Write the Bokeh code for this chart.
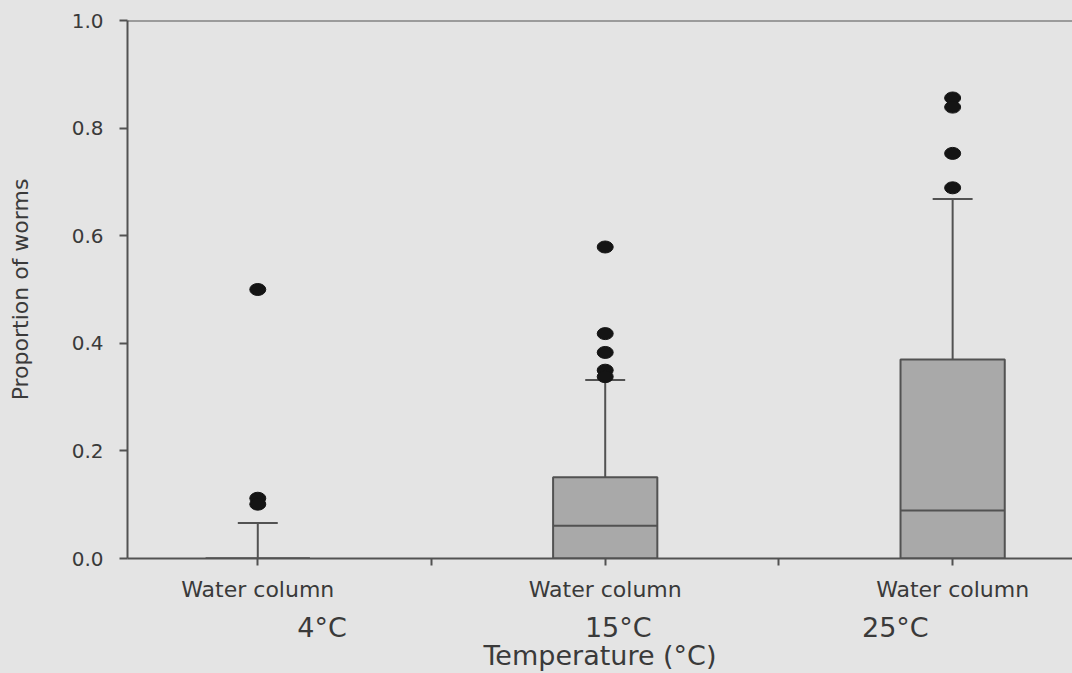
from bokeh.plotting import figure
from bokeh.models import FixedTicker, PrintfTickFormatter, Span, Range1d, ColumnDataSource, LinearAxis
from bokeh.embed import file_html
from bokeh.resources import INLINE

# ---------------- data ----------------
temperatures = ["4°C", "15°C", "25°C"]
habitat = ["Water column", "Water column", "Water column"]
q1 = [0.0, 0.0, 0.0]
median = [0.0, 0.061, 0.089]
q3 = [0.0, 0.151, 0.370]
whisker_high = [0.066, 0.332, 0.668]
outliers_4 = [0.500, 0.112, 0.101]
outliers_15 = [0.579, 0.418, 0.383, 0.350, 0.338]
outliers_25 = [0.856, 0.839, 0.753, 0.689]
y_ticks = [0.0, 0.2, 0.4, 0.6, 0.8, 1.0]
y_title = "Proportion of worms"
x_title = "Temperature (°C)"

# ---------------- styling ----------------
BG = "#e4e4e4"
LINE = "#525252"
TEXT = "#3a3a3a"
BOX = "#a9a9a9"
FONT = "DejaVu Sans"

slots = [2 * i + 1 for i in range(len(temperatures))]  # every other slot holds a box
half_box = 0.30
half_cap = 0.115

p = figure(width=1072, height=673,
           x_range=Range1d(0.25, 5.69), y_range=Range1d(0.0, 1.0),
           output_backend="svg", toolbar_location=None,
           min_border_left=127, min_border_right=0,
           min_border_top=20, min_border_bottom=115,
           background_fill_color=BG, border_fill_color=BG,
           outline_line_color=None)
p.grid.visible = False

src = ColumnDataSource(dict(
    x=slots, left=[s - half_box for s in slots], right=[s + half_box for s in slots],
    cl=[s - half_cap for s in slots], cr=[s + half_cap for s in slots],
    q1=q1, q3=q3, med=median, hi=whisker_high))

# whiskers and caps
p.segment(x0="x", x1="x", y0="q3", y1="hi", source=src, line_color=LINE, line_width=2)
p.segment(x0="cl", x1="cr", y0="hi", y1="hi", source=src, line_color=LINE, line_width=2)
# boxes
p.quad(left="left", right="right", bottom="q1", top="q3", source=src,
       fill_color=BOX, line_color=LINE, line_width=2)
p.segment(x0="left", x1="right", y0="med", y1="med", source=src, line_color=LINE, line_width=2)

# outliers
ox, oy = [], []
for s, vals in zip(slots, [outliers_4, outliers_15, outliers_25]):
    ox += [s] * len(vals)
    oy += vals
p.ellipse(x=ox, y=oy, width=16, height=12, width_units="screen", height_units="screen",
          fill_color="#141414", line_color="#141414")

# top frame line
p.add_layout(Span(location=1.0, dimension="width", line_color=LINE, line_width=2))

# y axis
ya = p.yaxis[0]
ya.ticker = FixedTicker(ticks=y_ticks)
ya.formatter = PrintfTickFormatter(format="%.1f")
ya.axis_line_color = LINE
ya.axis_line_width = 2
ya.major_tick_line_color = LINE
ya.major_tick_line_width = 2
ya.major_tick_in = 0
ya.major_tick_out = 8
ya.minor_tick_line_color = None
ya.major_label_standoff = 16
ya.major_label_text_font = FONT
ya.major_label_text_font_size = "20px"
ya.major_label_text_color = TEXT
ya.axis_label = y_title
ya.axis_label_text_font = FONT
ya.axis_label_text_font_size = "22px"
ya.axis_label_text_font_style = "normal"
ya.axis_label_text_color = TEXT
ya.axis_label_standoff = 36

# x axis (habitat labels)
xa = p.xaxis[0]
xa.ticker = FixedTicker(ticks=[1, 2, 3, 4, 5])
overrides = {s: h for s, h in zip(slots, habitat)}
overrides.update({2: "", 4: ""})
xa.major_label_overrides = overrides
xa.axis_line_color = LINE
xa.axis_line_width = 2
xa.major_tick_line_color = LINE
xa.major_tick_line_width = 2
xa.major_tick_in = 0
xa.major_tick_out = 7
xa.minor_tick_line_color = None
xa.major_label_standoff = 11
xa.major_label_text_font = FONT
xa.major_label_text_font_size = "22px"
xa.major_label_text_color = TEXT

# second axis: temperature group labels and title
label_shift = [0.37, 0.075, -0.33]
group_ticks = [round(s + d, 3) for s, d in zip(slots, label_shift)]
ga = LinearAxis(ticker=FixedTicker(ticks=group_ticks),
                major_label_overrides={t: name for t, name in zip(group_ticks, temperatures)})
ga.axis_line_color = None
ga.major_tick_line_color = None
ga.minor_tick_line_color = None
ga.major_tick_in = 0
ga.major_tick_out = 0
ga.major_label_standoff = 7
ga.major_label_text_font = FONT
ga.major_label_text_font_size = "27px"
ga.major_label_text_color = TEXT
ga.axis_label = x_title
ga.axis_label_text_font = FONT
ga.axis_label_text_font_size = "27px"
ga.axis_label_text_font_style = "normal"
ga.axis_label_text_color = TEXT
ga.axis_label_standoff = -6
p.add_layout(ga, "below")

html = file_html(p, INLINE)
html = html.replace("</head>", "<style>html, body {background: %s;}</style></head>" % BG, 1)
open("out.html", "w").write(html)
